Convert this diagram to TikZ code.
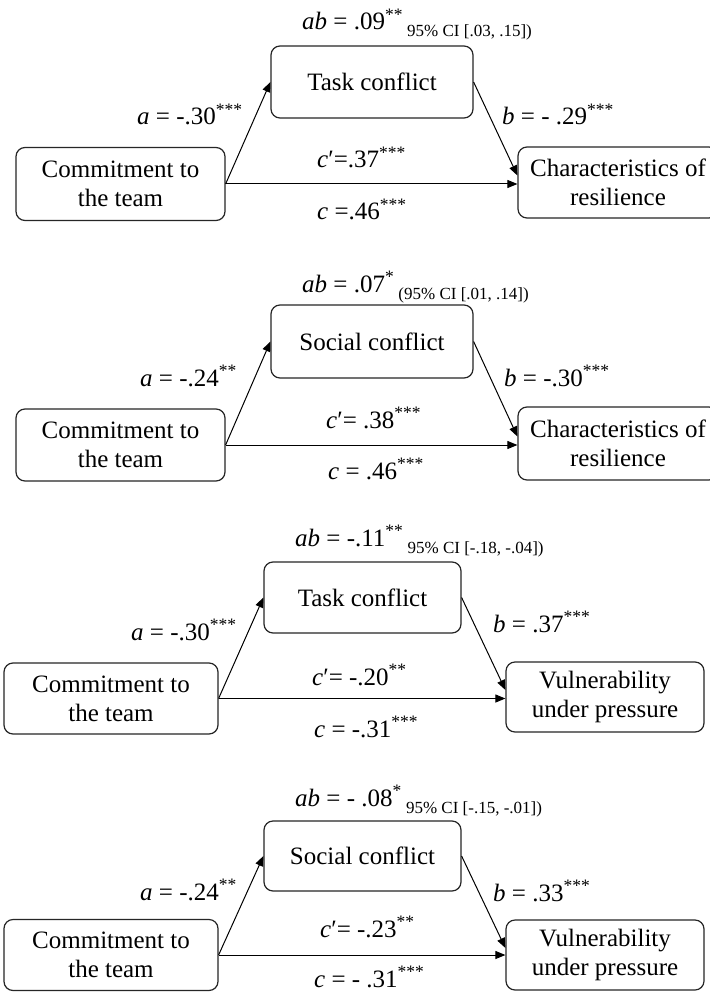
\documentclass[tikz,border=0pt]{standalone}
\usepackage{fontspec}
\setmainfont{Liberation Serif}
\usetikzlibrary{arrows.meta}
\newcommand\cisub[1]{\,\raisebox{-7pt}{\fontsize{17}{19}\selectfont #1}}
\newcommand\stars[1]{\textsuperscript{#1}}
\begin{document}
\begin{tikzpicture}[x=1pt,y=-1pt,
 box/.style={draw=black!85, line width=1.2pt, rounded corners=9pt, align=center, inner sep=0pt, font=\fontsize{25}{29}\selectfont},
 lbl/.style={anchor=base west, inner sep=0pt, font=\fontsize{25}{29}\selectfont},
 arr/.style={line width=1pt, -{Triangle[length=10pt,width=8pt]}},
]
\useasboundingbox (0,0) rectangle (709,992);
\fill[white] (0,0) rectangle (709,992);

% ---------- Panel 1
\node[box, minimum width=209pt, minimum height=73pt] (c1) at (120.5,184) {Commitment to\\the team};
\node[box, minimum width=202pt, minimum height=72pt] (m1) at (372,82) {Task conflict};
\node[box, minimum width=200pt, minimum height=71pt] (o1) at (618,182.5) {Characteristics of\\resilience};
\draw[arr] (c1.east) -- (m1.west);
\draw[arr] (m1.east) -- ([yshift=7pt]o1.west);
\draw[arr] (c1.east) -- (c1.east -| o1.west);
\node[lbl] (ab1) at (302,30) {\textit{ab} = .09\stars{**}\cisub{95\% CI [.03, .15])}};
\node[lbl] (a1) at (137,125) {\textit{a} = -.30\stars{***}};
\node[lbl] (b1) at (502,125) {\textit{b} = - .29\stars{***}};
\node[lbl] (cp1) at (317,168) {\textit{c}′=.37\stars{***}};
\node[lbl] (cc1) at (317,220) {\textit{c} =.46\stars{***}};

% ---------- Panel 2
\node[box, minimum width=209pt, minimum height=72pt] (c2) at (120.5,445) {Commitment to\\the team};
\node[box, minimum width=202pt, minimum height=73pt] (m2) at (372,341.5) {Social conflict};
\node[box, minimum width=200pt, minimum height=73pt] (o2) at (618,443.5) {Characteristics of\\resilience};
\draw[arr] (c2.east) -- (m2.west);
\draw[arr] (m2.east) -- ([yshift=7pt]o2.west);
\draw[arr] (c2.east) -- (c2.east -| o2.west);
\node[lbl] (ab2) at (302,292) {\textit{ab} = .07\stars{*}\cisub{(95\% CI [.01, .14])}};
\node[lbl] (a2) at (140,386) {\textit{a} = -.24\stars{**}};
\node[lbl] (b2) at (504,386) {\textit{b} = -.30\stars{***}};
\node[lbl] (cp2) at (326,428) {\textit{c}′= .38\stars{***}};
\node[lbl] (cc2) at (328,479) {\textit{c} = .46\stars{***}};

% ---------- Panel 3
\node[box, minimum width=214pt, minimum height=71pt] (c3) at (111,698.5) {Commitment to\\the team};
\node[box, minimum width=197pt, minimum height=71pt] (m3) at (362.5,597.5) {Task conflict};
\node[box, minimum width=198pt, minimum height=70pt] (o3) at (605,697) {Vulnerability\\under pressure};
\draw[arr] (c3.east) -- (m3.west);
\draw[arr] (m3.east) -- ([yshift=7pt]o3.west);
\draw[arr] (c3.east) -- (c3.east -| o3.west);
\node[lbl] (ab3) at (295,546) {\textit{ab} = -.11\stars{**}\cisub{95\% CI [-.18, -.04])}};
\node[lbl] (a3) at (131,640) {\textit{a} = -.30\stars{***}};
\node[lbl] (b3) at (493,632) {\textit{b} = .37\stars{***}};
\node[lbl] (cp3) at (312,685) {\textit{c}′= -.20\stars{**}};
\node[lbl] (cc3) at (314,737) {\textit{c} = -.31\stars{***}};

% ---------- Panel 4
\node[box, minimum width=214pt, minimum height=71pt] (c4) at (111,955) {Commitment to\\the team};
\node[box, minimum width=197pt, minimum height=70pt] (m4) at (362.5,856) {Social conflict};
\node[box, minimum width=198pt, minimum height=70pt] (o4) at (605,955) {Vulnerability\\under pressure};
\draw[arr] (c4.east) -- (m4.west);
\draw[arr] (m4.east) -- ([yshift=7pt]o4.west);
\draw[arr] (c4.east) -- (c4.east -| o4.west);
\node[lbl] (ab4) at (295,806) {\textit{ab} = - .08\stars{*}\cisub{95\% CI [-.15, -.01])}};
\node[lbl] (a4) at (140,900) {\textit{a} = -.24\stars{**}};
\node[lbl] (b4) at (493,901) {\textit{b} = .33\stars{***}};
\node[lbl] (cp4) at (320,937) {\textit{c}′= -.23\stars{**}};
\node[lbl] (cc4) at (314,987) {\textit{c} = - .31\stars{***}};
\end{tikzpicture}
\end{document}
